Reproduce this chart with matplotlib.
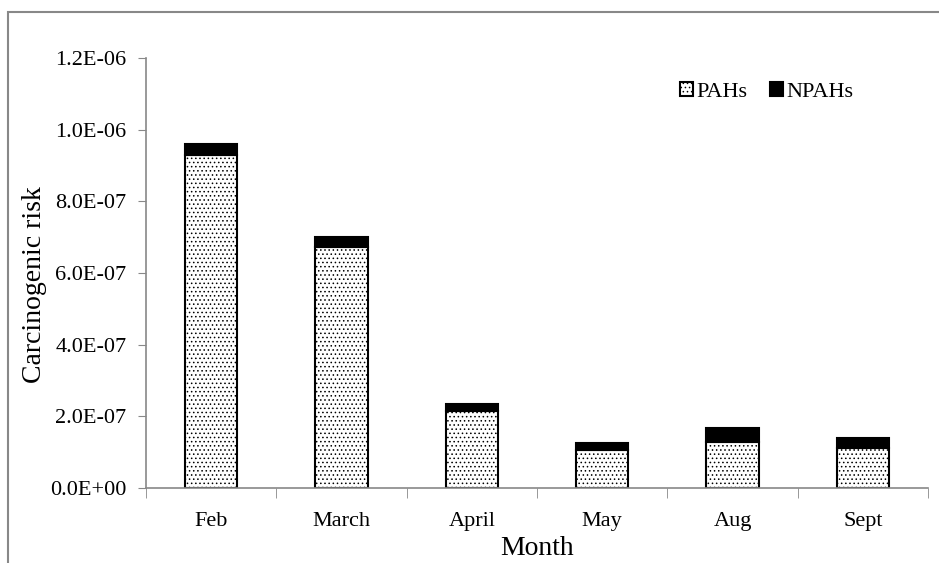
import numpy as np
import matplotlib.pyplot as plt
from matplotlib.patches import Rectangle
from matplotlib.ticker import FuncFormatter, FixedLocator

months = ['Feb', 'March', 'April', 'May', 'Aug', 'Sept']
pahs = [9.30e-7, 6.72e-7, 2.15e-7, 1.06e-7, 1.28e-7, 1.12e-7]
npahs = [0.30e-7, 0.28e-7, 0.19e-7, 0.20e-7, 0.39e-7, 0.28e-7]

plt.rcParams['font.family'] = ['Liberation Serif', 'DejaVu Serif']
plt.rcParams['hatch.linewidth'] = 0.6

fig = plt.figure(figsize=(9.39, 5.63), dpi=100)
ax = fig.add_axes([146 / 939, 1 - 488 / 563, (928 - 146) / 939, (488 - 58) / 563])

# outer frame of the chart area (cut off at right and bottom)
fig.patches.append(Rectangle((8 / 939, -0.1), 1.1, 1 - 12 / 563 + 0.1,
                             transform=fig.transFigure, fill=False,
                             edgecolor='#888888', linewidth=1.5, zorder=0))

x = np.arange(len(months))
w = 0.4
ax.bar(x, pahs, w, color='white', edgecolor='black', hatch='....',
       linewidth=1.5, label='PAHs')
ax.bar(x, npahs, w, bottom=pahs, color='black', edgecolor='black',
       linewidth=1.5, label='NPAHs')

ax.set_xlim(-0.5, len(months) - 0.5)
ax.set_ylim(0, 1.2e-6)
ax.set_yticks(np.arange(0, 1.21e-6, 2e-7))
ax.yaxis.set_major_formatter(FuncFormatter(
    lambda v, p: '0.0E+00' if v == 0 else '%.1E' % v))
ax.set_xticks(x)
ax.set_xticklabels(months)
ax.xaxis.set_minor_locator(FixedLocator(np.arange(-0.5, len(months), 1.0)))
ax.tick_params(axis='x', which='major', length=0, labelsize=16, pad=17)
ax.tick_params(axis='x', which='minor', length=7, color='#888888', direction='out')
ax.tick_params(axis='y', length=6, color='#888888', labelsize=16, pad=8)

for s in ['top', 'right']:
    ax.spines[s].set_visible(False)
for s in ['left', 'bottom']:
    ax.spines[s].set_color('#888888')
    ax.spines[s].set_linewidth(1.2)

ax.set_xlabel('Month', fontsize=20, labelpad=4)
ax.set_ylabel('Carcinogenic risk', fontsize=20)
ax.yaxis.set_label_coords(-0.127, 0.472)

ax.legend(loc='upper right', bbox_to_anchor=(0.93, 0.99), ncol=2, frameon=False,
          fontsize=16, handlelength=0.6, handleheight=0.6, handletextpad=0.15,
          columnspacing=1.0)

fig.savefig('out.png', dpi=100)
